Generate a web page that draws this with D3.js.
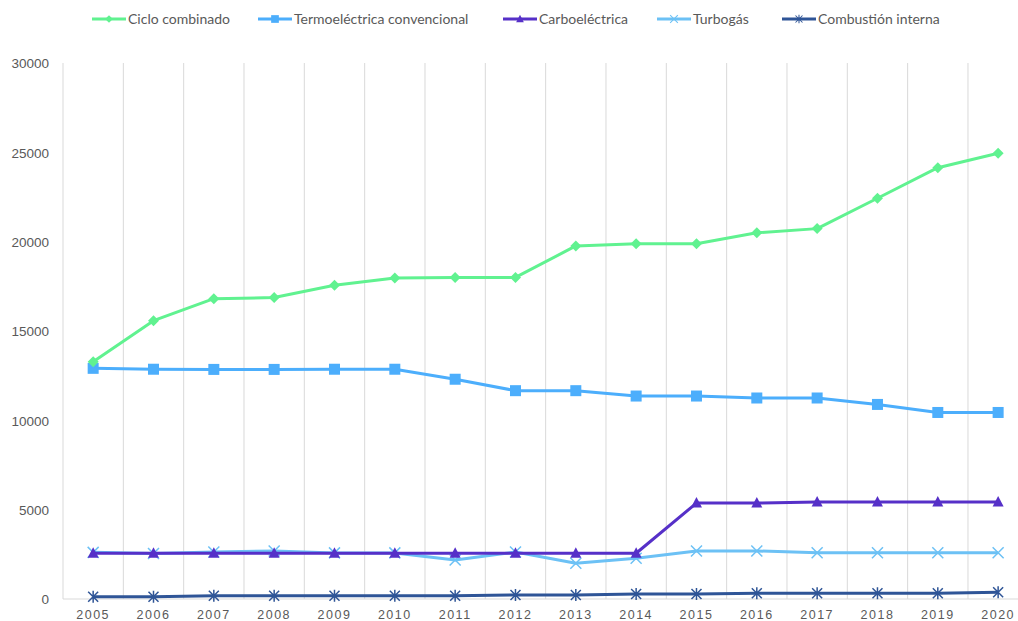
<!DOCTYPE html>
<meta charset="utf-8">
<style>
body { margin: 0; background: #fff; }
svg { font-family: Lato, "Open Sans", sans-serif; }
.axis text { fill: #595959; }
.legend text { fill: #595959; font-size: 14px; }
</style>
<body>
<script src="https://d3js.org/d3.v7.min.js"></script>
<script>
var years = ["2005","2006","2007","2008","2009","2010","2011","2012","2013","2014","2015","2016","2017","2018","2019","2020"];
var yTicks = [0, 5000, 10000, 15000, 20000, 25000, 30000];

var cicloCombinado = [13280, 15580, 16810, 16870, 17560, 17970, 18000, 18000, 19760, 19880, 19880, 20500, 20730, 22430, 24140, 24950];
var termoConvencional = [12910, 12860, 12850, 12850, 12860, 12860, 12300, 11660, 11660, 11360, 11360, 11250, 11250, 10890, 10440, 10440];
var carboelectrica = [2560, 2560, 2560, 2560, 2560, 2560, 2560, 2560, 2560, 2560, 5370, 5370, 5430, 5430, 5430, 5430];
var turbogas = [2610, 2550, 2630, 2690, 2580, 2580, 2180, 2630, 2000, 2280, 2690, 2690, 2590, 2590, 2590, 2590];
var combustionInterna = [130, 130, 185, 185, 185, 185, 185, 225, 225, 280, 280, 320, 320, 320, 320, 375];

var series = [
  {name: "Ciclo combinado", values: cicloCombinado, color: "#60f290", marker: "diamond"},
  {name: "Termoeléctrica convencional", values: termoConvencional, color: "#4caefc", marker: "square"},
  {name: "Carboeléctrica", values: carboelectrica, color: "#5630c8", marker: "triangle"},
  {name: "Turbogás", values: turbogas, color: "#6cc1f5", marker: "x"},
  {name: "Combustión interna", values: combustionInterna, color: "#2f5597", marker: "star"}
];

var w = 1018, h = 621,
    plotLeft = 63, plotRight = 1028.3, plotTop = 63, plotBottom = 599;

var svg = d3.select("body").append("svg")
    .attr("width", w)
    .attr("height", h);

var x = d3.scaleBand().domain(years).range([plotLeft, plotRight]);
var y = d3.scaleLinear().domain([0, 30000]).range([plotBottom, plotTop]);

/* vertical gridlines between categories */
svg.append("g")
  .selectAll("line")
  .data(years)
  .enter().append("line")
    .attr("x1", function(d) { return x(d); })
    .attr("x2", function(d) { return x(d); })
    .attr("y1", plotTop)
    .attr("y2", plotBottom)
    .attr("stroke", "#d9d9d9")
    .attr("stroke-width", 1);

/* x axis line */
svg.append("line")
    .attr("x1", plotLeft).attr("x2", plotRight)
    .attr("y1", plotBottom).attr("y2", plotBottom)
    .attr("stroke", "#d9d9d9");

/* y labels */
var yAxis = svg.append("g").attr("class", "axis")
    .attr("transform", "translate(" + (plotLeft - 14) + ",0)")
    .call(d3.axisLeft(y).tickValues(yTicks).tickSize(0).tickFormat(d3.format("d")));
yAxis.select(".domain").remove();
yAxis.selectAll("text").attr("font-size", "13.5px").attr("x", 0).attr("dy", "0.35em");

/* x labels */
var xAxis = svg.append("g").attr("class", "axis")
    .attr("transform", "translate(0," + (plotBottom + 8) + ")")
    .call(d3.axisBottom(x).tickSize(0));
xAxis.select(".domain").remove();
xAxis.selectAll("text").attr("font-size", "12.5px").attr("letter-spacing", "1.5px").attr("dy", "0.71em");

var line = d3.line()
    .x(function(d, i) { return x(years[i]) + x.bandwidth() / 2; })
    .y(function(d) { return y(d); });

function drawMarker(g, type, color) {
  if (type === "diamond") {
    g.append("path").attr("d", "M0,-5.5L5.5,0L0,5.5L-5.5,0Z").attr("fill", color);
  } else if (type === "square") {
    g.append("rect").attr("x", -5.5).attr("y", -5.5).attr("width", 11).attr("height", 11).attr("fill", color);
  } else if (type === "triangle") {
    g.append("path").attr("d", "M0,-6L5.5,4.5L-5.5,4.5Z").attr("fill", color);
  } else if (type === "x") {
    g.append("path").attr("d", "M-5.5,-5.5L5.5,5.5M-5.5,5.5L5.5,-5.5").attr("stroke", color).attr("stroke-width", 1.5).attr("fill", "none");
  } else if (type === "star") {
    g.append("path").attr("d", "M-5,-5L5,5M-5,5L5,-5M0,-6L0,6").attr("stroke", color).attr("stroke-width", 1.5).attr("fill", "none");
  }
}

/* draw from back to front: lower series last on top like the original */
series.slice().reverse().forEach(function(s) {
  var g = svg.append("g");
  g.append("path")
    .datum(s.values)
    .attr("d", line)
    .attr("fill", "none")
    .attr("stroke", s.color)
    .attr("stroke-width", 3)
    .attr("stroke-linejoin", "round");
  g.selectAll("g.pt")
    .data(s.values)
    .enter().append("g")
      .attr("class", "pt")
      .attr("transform", function(d, i) {
        return "translate(" + (x(years[i]) + x.bandwidth() / 2) + "," + y(d) + ")";
      })
      .each(function() { drawMarker(d3.select(this), s.marker, s.color); });
});

/* legend */
var legendX = [92, 258, 503, 657, 782];
var legend = svg.append("g").attr("class", "legend");
series.forEach(function(s, i) {
  var lg = legend.append("g").attr("transform", "translate(" + legendX[i] + ",19)");
  lg.append("line").attr("x1", 0).attr("x2", 34).attr("stroke", s.color).attr("stroke-width", 3);
  var m = lg.append("g").attr("transform", "translate(17,0) scale(0.7)");
  drawMarker(m, s.marker, s.color);
  lg.append("text").attr("x", 36).attr("dy", "0.35em").text(s.name);
});
</script>
</body>
